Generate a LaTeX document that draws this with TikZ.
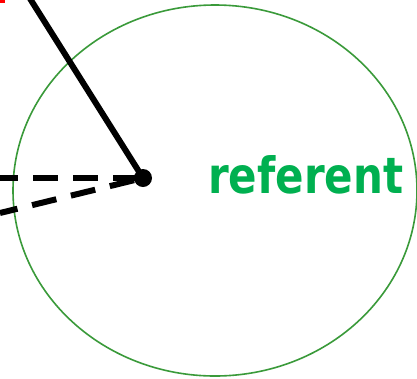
\documentclass[tikz,border=0pt]{standalone}
\usepackage{fontspec}
\newfontfamily\labelfont{DejaVu Sans}
\definecolor{ringgreen}{HTML}{3A9A3A}
\definecolor{textgreen}{HTML}{00B050}
\tikzset{
  ring/.style={draw=ringgreen, line width=1.6pt},
  ray/.style={line width=6pt},
  dashray/.style={line width=6pt, dash pattern=on 25pt off 15pt, dash phase=7pt},
  hub/.style={circle, fill=black, minimum size=18pt, inner sep=0pt},
  reflabel/.style={text=textgreen, font=\labelfont\bfseries\fontsize{50pt}{50pt}\selectfont, inner sep=0pt, anchor=base west}
}
\begin{document}
\begin{tikzpicture}[x=1pt, y=-1pt]
\useasboundingbox (0,0) rectangle (417,378);
\fill[white] (0,0) rectangle (417,378);
\fill[red] (0,0) rectangle (5,2.5);
\draw[ring] (215,190.5) ellipse [x radius=202, y radius=185.5];
\node[hub] (c) at (143,178) {};
\coordinate (a) at (29,-3);
\coordinate (b) at (0,178);
\coordinate (d) at (0,213);
\draw[ray] (a) -- (c.center);
\draw[dashray] (b) -- (c.center);
\draw[dashray] (d) -- (c.center);
\node[reflabel] (lbl) at (208,193) {\scalebox{0.84}[1]{referent}};
\end{tikzpicture}
\end{document}
